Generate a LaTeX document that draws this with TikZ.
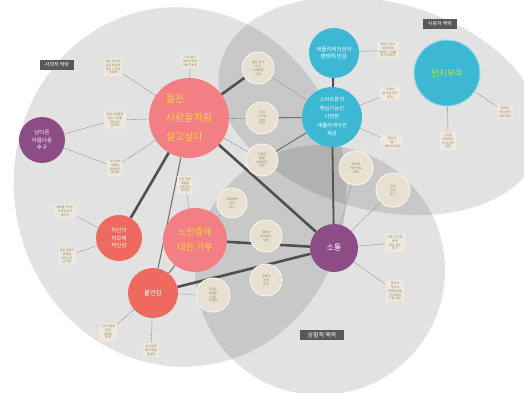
\documentclass[tikz,border=0pt]{standalone}
\usepackage{fontspec}
\usepackage{xcolor}
\usepackage{tikz}
\usetikzlibrary{arrows.meta,positioning}
\newfontfamily\kr{Noto Sans CJK KR}
\pgfdeclarelayer{bg}
\pgfsetlayers{bg,main}
\definecolor{ctxgray}{HTML}{585858}
\definecolor{pinkmain}{HTML}{F37E83}
\definecolor{redmain}{HTML}{EE6A5F}
\definecolor{purplemain}{HTML}{8C4C85}
\definecolor{cyanmain}{HTML}{3DB8D2}
\definecolor{beigecirc}{HTML}{E8E1D1}
\definecolor{beigenote}{HTML}{EEE9DE}
\definecolor{notetext}{HTML}{8A7A52}
\definecolor{yellowtext}{HTML}{FFD53E}
\definecolor{greentext}{HTML}{B9E83C}
\definecolor{linkgray}{HTML}{505050}

\begin{document}
\begin{tikzpicture}[x=1pt,y=-1pt,font=\kr,>=Latex]

\tikzset{
core/.style={circle,inner sep=0pt,align=center,text=white},
ctx/.style={fill=ctxgray,text=white,inner xsep=5pt,inner ysep=2.5pt,font=\kr\fontsize{5}{6}\selectfont},
sub/.style={circle,fill=beigecirc,draw=white!60!beigecirc,line width=1pt,inner sep=0pt,minimum size=32pt,align=center,text=notetext,font=\kr\fontsize{3}{3.9}\selectfont},
note/.style={fill=beigenote,inner sep=2pt,align=center,text=notetext,font=\kr\fontsize{3}{3.9}\selectfont},
link/.style={line width=2.6pt,color=linkgray},
thin/.style={line width=1.1pt,color=linkgray!80},
dot/.style={line width=0.6pt,color=gray!90,dash pattern=on 1.2pt off 0.9pt}
}

\useasboundingbox (0,0) rectangle (524,393);

\node[core,fill=pinkmain,minimum size=80pt,text=yellowtext,align=left,font=\kr\fontsize{10}{19}\selectfont] (young) at (189,118) {젊은\\사람들처럼\\살고싶다};
\node[core,fill=pinkmain,minimum size=64pt,text=yellowtext,font=\kr\fontsize{9}{15}\selectfont] (reject) at (195,240) {노인층에\\대한 거부};
\node[core,fill=redmain,minimum size=46pt,font=\kr\fontsize{5.5}{7.5}\selectfont] (confid) at (119,238) {자신의\\외모에\\자신감};
\node[core,fill=redmain,minimum size=50pt,font=\kr\fontsize{6.5}{8}\selectfont] (anxious) at (153,293) {불안감};
\node[core,fill=purplemain,minimum size=48pt,font=\kr\fontsize{8}{9}\selectfont] (talk) at (334,248) {소통};
\node[core,fill=purplemain,minimum size=46pt,font=\kr\fontsize{5.5}{7.5}\selectfont] (beauty) at (42,140) {남다른\\아름다움\\추구};
\node[core,fill=cyanmain,minimum size=50pt,font=\kr\fontsize{5.5}{7.5}\selectfont] (appform) at (334,53) {애플리케이션의\\형태적 반응};
\node[core,fill=cyanmain,minimum size=60pt,font=\kr\fontsize{5.3}{8.5}\selectfont] (appvar) at (332,117) {스마트폰의\\핵심기능인\\다양한\\애플리케이션\\제공};
\node[core,fill=cyanmain,draw=cyanmain!55!white,line width=1pt,minimum size=66pt,text=greentext,font=\kr\fontsize{8.5}{10}\selectfont] (cogn) at (447,73) {인지부족};

\node[ctx] (socctx) at (57,65) {사회적 맥락};
\node[ctx] (userctx) at (440,24) {사용자 맥락};
\node[ctx,font=\kr\fontsize{6}{7}\selectfont,inner xsep=8pt] (sitctx) at (322,335) {상황적 맥락};

\node[sub] (c1) at (258,68) {젊은 층이\\쓰는\\스마트폰\\선호};
\node[sub] (c2) at (262,118) {최신\\기기에\\대한\\관심};
\node[sub] (c3) at (262,160) {다양한\\앱을\\사용하고\\싶음};
\node[sub,minimum size=30pt] (c4) at (232,203) {또래와의\\비교\\의식};
\node[sub] (c5) at (266,236) {대화에\\참여하고\\싶음};
\node[sub] (c6) at (266,280) {사회적\\관계\\유지};
\node[sub,minimum size=34pt] (c7) at (213,295) {도움\\요청을\\꺼림\\망설임};
\node[sub,minimum size=34pt] (c8) at (356,168) {자녀와\\메신저로\\대화};
\node[sub,minimum size=34pt] (c9) at (393,190) {사진\\공유\\욕구};

\node[note] (n1) at (113,67) {젊어 보이고\\싶은 마음에\\최신 기기를\\선호함};
\node[note] (n2) at (190,61) {나이 들어\\보이는 것에\\대한 거부감};
\node[note] (n3) at (115,120) {주변 사람들과\\같은 기기를\\사용하고\\싶어함};
\node[note] (n4) at (115,167) {자신만의\\개성을\\표현하고\\싶어함};
\node[note] (n5) at (185,185) {노인 전용\\제품을\\사용하기\\싫어함};
\node[note] (n6) at (65,211) {외모를 꾸미는\\것에 관심이\\많아짐};
\node[note] (n7) at (67,256) {젊은 세대의\\유행을\\따라가고\\싶어함};
\node[note] (n8) at (108,332) {기기 사용에\\대한\\두려움\\존재};
\node[note] (n9) at (151,350) {실수할까\\봐 조작을\\망설임};
\node[note] (n10) at (388,50) {화면 구성이\\복잡하여\\원하는 기능을\\찾기 어려움};
\node[note] (n11) at (390,93) {다양한\\앱 사용 의지\\존재};
\node[note] (n12) at (392,142) {메신저\\앱\\사용 빈도 높음};
\node[note] (n13) at (505,112) {용어와\\아이콘의\\의미 파악};
\node[note] (n14) at (448,141) {기능을\\이해하는\\데 시간이\\걸림};
\node[note] (n15) at (395,243) {가족, 친구와\\연락\\하고 싶은\\욕구};
\node[note] (n16) at (395,291) {메시지\\작성 시\\어려움 경험\\자녀에게\\도움 요청};

\begin{pgfonlayer}{bg}
\fill[white] (0,0) rectangle (524,393);
\fill[black,fill opacity=0.115,rotate around={8:(180,187)}] (180,187) ellipse [x radius=166pt,y radius=180pt];
\fill[black,fill opacity=0.115,rotate around={-15:(380,106)}] (380,106) ellipse [x radius=165pt,y radius=104pt];
\fill[black,fill opacity=0.115] (320,270) circle [radius=125pt];

\draw[link] (young) -- (confid);
\draw[link] (young) -- (talk);
\draw[link] (young) -- (c1);
\draw[thin] (young) -- (anxious);
\draw[link] (reject) -- (talk);
\draw[link] (anxious) -- (talk);
\draw[thin] (reject) -- (anxious);
\draw[link,line width=2pt] (appform) -- (appvar);
\draw[link,line width=1.8pt] (appvar) -- (talk);
\draw[thin] (appvar) -- (c2);
\draw[thin] (appvar) -- (c3);

\draw[dot] (young) -- (n1);
\draw[dot] (young) -- (n2);
\draw[dot] (young) -- (n3);
\draw[dot] (young) -- (n4);
\draw[dot] (young) -- (c2);
\draw[dot] (young) -- (c3);
\draw[dot] (beauty) -- (n3);
\draw[dot] (beauty) -- (n4);
\draw[dot] (reject) -- (n5);
\draw[dot] (reject) -- (c4);
\draw[dot] (confid) -- (n6);
\draw[dot] (confid) -- (n7);
\draw[dot] (anxious) -- (n8);
\draw[dot] (anxious) -- (n9);
\draw[dot] (anxious) -- (c7);
\draw[dot] (appvar) -- (c1);
\draw[dot] (appform) -- (n10);
\draw[dot] (appvar) -- (n11);
\draw[dot] (appvar) -- (n12);
\draw[dot] (cogn) -- (n13);
\draw[dot] (cogn) -- (n14);
\draw[dot] (talk) -- (n15);
\draw[dot] (talk) -- (n16);
\draw[dot] (talk) -- (c8);
\draw[dot] (talk) -- (c9);
\end{pgfonlayer}

\end{tikzpicture}
\end{document}
